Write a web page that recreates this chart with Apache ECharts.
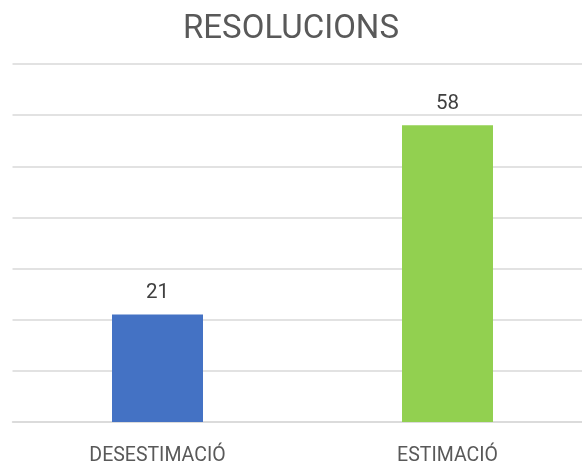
<!DOCTYPE html>
<html>
<head>
<meta charset="utf-8">
<script src="https://cdn.jsdelivr.net/npm/echarts@6/dist/echarts.min.js"></script>
<style>
  html, body { margin: 0; padding: 0; background: #fff; }
  #chart { width: 582px; height: 467px; }
</style>
</head>
<body>
<div id="chart"></div>
<script>
// data
var categories = ['DESESTIMACIÓ', 'ESTIMACIÓ'];
var values = [21, 58];
var barColors = ['#4472C4', '#92D050'];

var chart = echarts.init(document.getElementById('chart'));

var option = {
  animation: false,
  title: {
    text: 'RESOLUCIONS',
    left: 'center',
    top: 8,
    textStyle: {
      fontFamily: 'Roboto',
      fontWeight: 'normal',
      fontSize: 33,
      color: '#595959'
    }
  },
  grid: {
    left: 12.5,
    right: -10.5,
    top: 64,
    bottom: 45,
    outerBoundsMode: 'none'
  },
  xAxis: {
    type: 'category',
    data: categories,
    axisTick: { show: false },
    axisLine: { lineStyle: { color: '#D9D9D9', width: 1.5 } },
    axisLabel: {
      margin: 24,
      fontFamily: 'Roboto',
      fontSize: 19.5,
      color: '#595959'
    }
  },
  yAxis: {
    type: 'value',
    min: 0,
    max: 70,
    interval: 10,
    axisLabel: { show: false },
    axisLine: { show: false },
    axisTick: { show: false },
    splitLine: { lineStyle: { color: '#D9D9D9', width: 1.5 } }
  },
  series: [{
    type: 'bar',
    barWidth: 91,
    data: values.map(function (v, i) {
      return { value: v, itemStyle: { color: barColors[i] } };
    }),
    label: {
      show: true,
      position: 'top',
      distance: 11,
      fontFamily: 'Roboto',
      fontSize: 20.5,
      color: '#404040'
    }
  }]
};

chart.setOption(option);
</script>
</body>
</html>
